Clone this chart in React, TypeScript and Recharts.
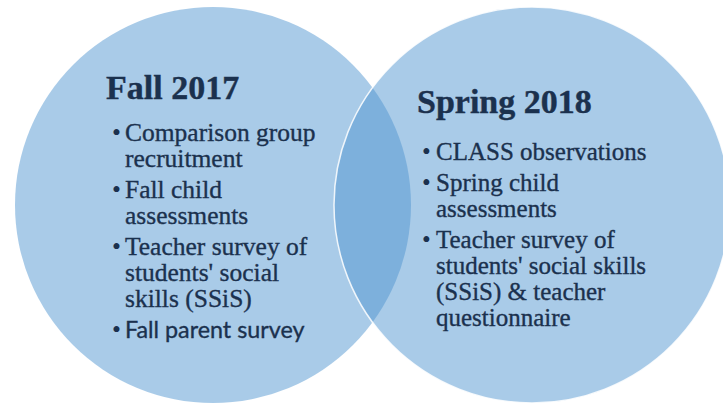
import { ScatterChart, Scatter, XAxis, YAxis } from 'recharts'

const W = 723
const H = 408

// circles of the Venn diagram (in pixel-like data units)
const circleNames = ['Fall 2017', 'Spring 2018']
const circleX = [213, 532]
const circleY = [205, 205]
const circleR = [198, 198]

// bullet lists, one entry per bullet, wrapped lines inside
const fallBullets = [
  ['Comparison group', 'recruitment'],
  ['Fall child', 'assessments'],
  ['Teacher survey of', "students' social", 'skills (SSiS)'],
  ['Fall parent survey'],
]
const springBullets = [
  ['CLASS observations'],
  ['Spring child', 'assessments'],
  ['Teacher survey of', "students' social skills", '(SSiS) & teacher', 'questionnaire'],
]
const sansBullets = ['Fall parent survey']

const data = circleNames.map((name, i) => ({
  name,
  x: circleX[i],
  y: circleY[i],
  r: circleR[i],
  bullets: i === 0 ? fallBullets : springBullets,
}))

const X_DOMAIN: [number, number] = [0, W]
const pxPerUnit = W / (X_DOMAIN[1] - X_DOMAIN[0])

const FILL = '#4f95d0'
const TEXT = '#1b314e'
const SERIF = '"Liberation Serif", "Times New Roman", serif'

// text block placement relative to circle centre
const layout = [
  { titleDx: -107, titleY: 99, bulletDx: -101, textDx: -88, firstY: 141, size: 25.5 },
  { titleDx: -115, titleY: 113, bulletDx: -110, textDx: -96, firstY: 160, size: 25 },
]
const LINE = 26
const GAP = 5

function TextBlock({ cx, cy, idx, title, bullets }: any) {
  const l = layout[idx]
  let y = l.firstY - 205 + cy
  const items: any[] = []
  bullets.forEach((lines: string[], bi: number) => {
    const sans = sansBullets.includes(lines[0])
    const top = y
    items.push(
      <text key={`b${bi}`} x={cx + l.bulletDx} y={top} fontFamily={SERIF} fontSize={l.size} fill={TEXT}>
        •
      </text>
    )
    // one text element per bullet, wrapped lines as tspans
    items.push(
      <text
        key={`t${bi}`}
        y={top}
        fontFamily={sans ? '"Lato", "Liberation Sans", sans-serif' : SERIF}
        fontSize={sans ? 23.3 : l.size}
        fill={TEXT}
        stroke={TEXT}
        strokeWidth={0.35}
      >
        {lines.map((line, li) => (
          <tspan key={li} x={cx + l.textDx} y={top + li * LINE}>
            {line}
          </tspan>
        ))}
      </text>
    )
    y += lines.length * LINE + GAP
  })
  return (
    <g>
      <text
        x={cx + l.titleDx}
        y={l.titleY - 205 + cy}
        fontFamily={SERIF}
        fontWeight="bold"
        fontSize={34}
        fill={TEXT}
        stroke={TEXT}
        strokeWidth={0.4}
      >
        {title}
      </text>
      {items}
    </g>
  )
}

function VennCircle(props: any) {
  const { cx, cy, payload } = props
  const idx = circleNames.indexOf(payload.name)
  const r = payload.r * pxPerUnit
  return (
    <circle
      cx={cx}
      cy={cy}
      r={r}
      fill={FILL}
      fillOpacity={0.49}
      stroke={idx === 1 ? '#ffffff' : 'none'}
      strokeOpacity={0.85}
      strokeWidth={1.5}
    />
  )
}

function VennText(props: any) {
  const { cx, cy, payload } = props
  const idx = circleNames.indexOf(payload.name)
  return <TextBlock cx={cx} cy={cy} idx={idx} title={payload.name} bullets={payload.bullets} />
}

export default function App() {
  return (
    <div style={{ position: 'absolute', left: 0, top: 0, width: W, height: H, background: '#ffffff' }}>
      <ScatterChart width={W} height={H} margin={{ top: 0, right: 0, bottom: 0, left: 0 }}>
        <XAxis type="number" dataKey="x" domain={X_DOMAIN} hide />
        <YAxis type="number" dataKey="y" domain={[0, H]} reversed hide />
        <Scatter data={data} shape={VennCircle} isAnimationActive={false} />
        <Scatter data={data} shape={VennText} isAnimationActive={false} />
      </ScatterChart>
    </div>
  )
}
